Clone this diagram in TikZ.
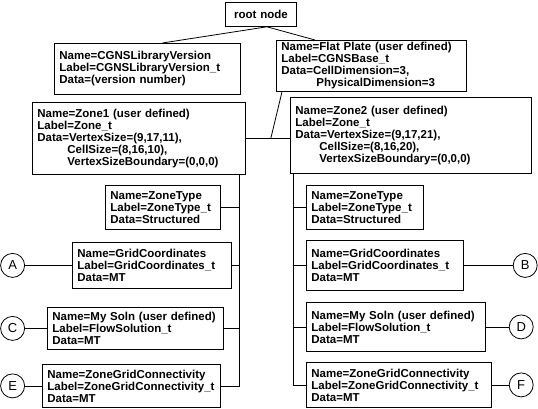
\documentclass[tikz,border=0pt]{standalone}
\usepackage{fontspec}
\setmainfont{Liberation Sans}
\usetikzlibrary{positioning,calc}
\tikzset{
  cbox/.style={draw,anchor=north west,align=left,inner xsep=5pt,inner ysep=0pt,font=\fontsize{11.5}{12}\selectfont\bfseries},
  ref/.style={draw,circle,minimum size=24pt,inner sep=0pt,font=\fontsize{13}{13}\selectfont}
}
\begin{document}
\begin{tikzpicture}[x=1pt,y=-1pt,line width=0.8pt]
\useasboundingbox (0,0) rectangle (538,409);
\node[cbox,align=center,text width=61pt,minimum height=24pt] (root) at (225,2) {root node};

\node[cbox,text width=176pt,minimum height=51pt] (lib) at (54,43) {Name=CGNSLibraryVersion\\Label=CGNSLibraryVersion\_t\\Data=(version number)};
\node[cbox,text width=180pt,minimum height=51pt] (base) at (276,40) {Name=Flat Plate (user defined)\\Label=CGNSBase\_t\\Data=CellDimension=3,\\\hspace*{35pt}PhysicalDimension=3};

\node[cbox,text width=203pt,minimum height=72pt] (zone1) at (32,102) {Name=Zone1 (user defined)\\Label=Zone\_t\\Data=VertexSize=(9,17,11),\\\hspace*{30pt}CellSize=(8,16,10),\\\hspace*{30pt}VertexSizeBoundary=(0,0,0)};
\node[cbox,text width=231pt,minimum height=76pt] (zone2) at (290,97) {Name=Zone2 (user defined)\\Label=Zone\_t\\Data=VertexSize=(9,17,21),\\\hspace*{24pt}CellSize=(8,16,20),\\\hspace*{24pt}VertexSizeBoundary=(0,0,0)};

\node[cbox,text width=105pt,minimum height=44pt] (zt1) at (105,185) {Name=ZoneType\\Label=ZoneType\_t\\Data=Structured};
\node[cbox,text width=149pt,minimum height=46pt] (gc1) at (72,242) {Name=GridCoordinates\\Label=GridCoordinates\_t\\Data=MT};
\node[cbox,text width=166pt,minimum height=42pt] (sol1) at (47,307) {Name=My Soln (user defined)\\Label=FlowSolution\_t\\Data=MT};
\node[cbox,text width=168pt,minimum height=43pt] (conn1) at (42,364) {Name=ZoneGridConnectivity\\Label=ZoneGridConnectivity\_t\\Data=MT};

\node[cbox,text width=107pt,minimum height=44pt] (zt2) at (306,185) {Name=ZoneType\\Label=ZoneType\_t\\Data=Structured};
\node[cbox,text width=147pt,minimum height=50pt] (gc2) at (306,240) {Name=GridCoordinates\\Label=GridCoordinates\_t\\Data=MT};
\node[cbox,text width=169pt,minimum height=49pt] (sol2) at (306,302) {Name=My Soln (user defined)\\Label=FlowSolution\_t\\Data=MT};
\node[cbox,text width=175pt,minimum height=45pt] (conn2) at (306,362) {Name=ZoneGridConnectivity\\Label=ZoneGridConnectivity\_t\\Data=MT};

\node[ref,left=47pt of gc1] (A) {A};
\node[ref,right=49pt of gc2] (B) {B};
\node[ref,left=22pt of sol1] (C) {C};
\node[ref,right=23pt of sol2] (D) {D};
\node[ref,left=17pt of conn1] (E) {E};
\node[ref,right=17pt of conn2] (F) {F};

\coordinate (apex) at ($(root.south)+(6,0)$);
\coordinate (zjoin) at ($(zone1.east)+(25,0)$);
\coordinate (t1) at (239,0);
\coordinate (t2) at (293,0);

\draw (apex) -- ($(lib.north)+(15,0)$);
\draw (apex) -- ($(base.north west)+(39,0)$);
\draw (zone1.east) -- (zone1.east -| zone2.west);
\draw ($(base.south west)+(6,0)$) -- (zjoin);

\draw (zone1.south -| t1) -- (conn1.east -| t1) -- (conn1.east);
\foreach \n in {zt1,gc1,sol1} \draw (\n.east) -- (\n.east -| t1);
\draw (zone2.south -| t2) -- (conn2.west -| t2) -- (conn2.west);
\foreach \n in {zt2,gc2,sol2} \draw (\n.west) -- (\n.west -| t2);

\draw (A) -- (gc1);
\draw (C) -- (sol1);
\draw (E) -- (conn1);
\draw (gc2) -- (B);
\draw (sol2) -- (D);
\draw (conn2) -- (F);
\end{tikzpicture}
\end{document}
